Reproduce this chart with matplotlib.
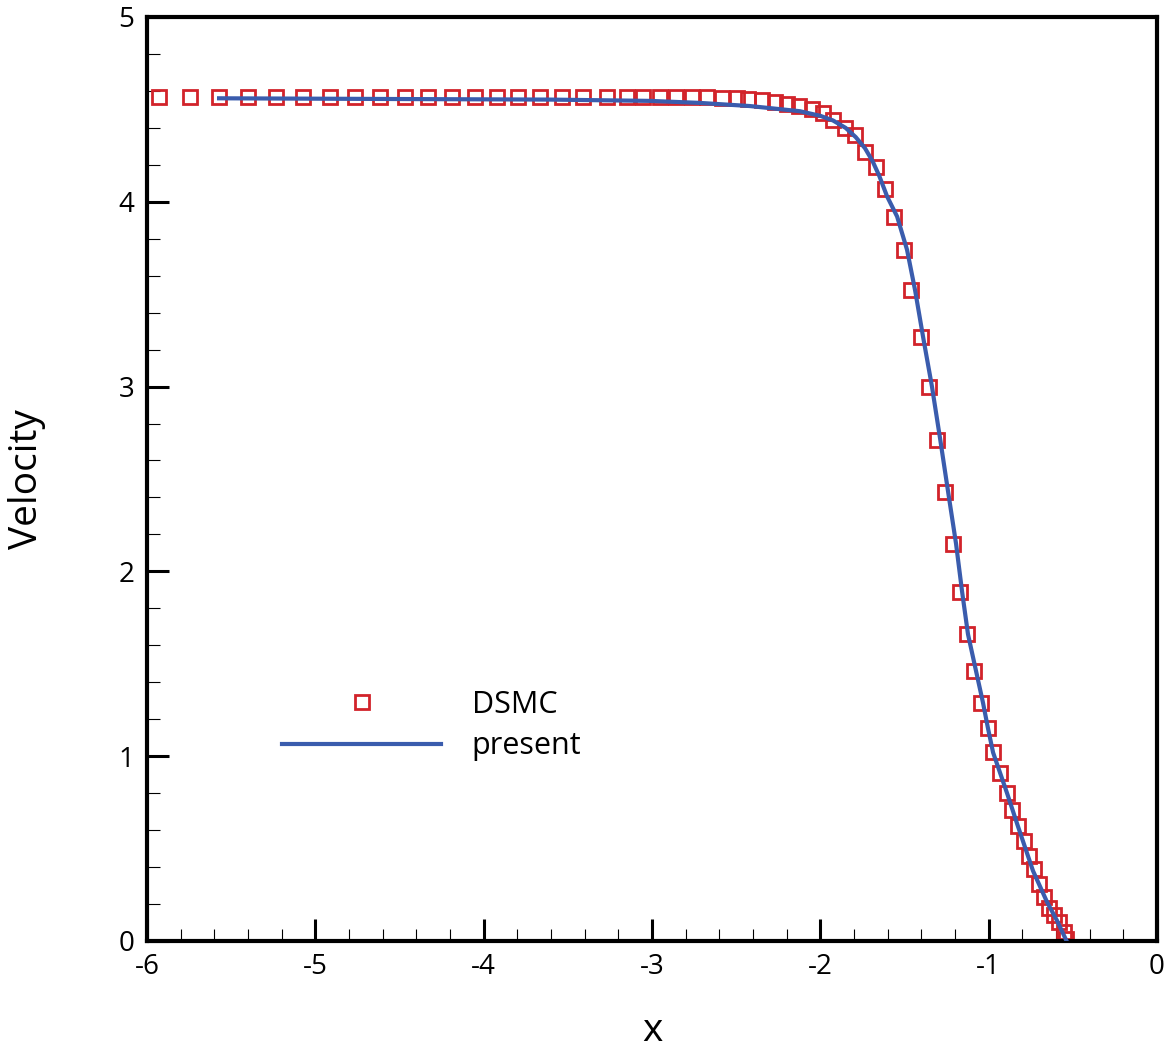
import matplotlib
matplotlib.use('Agg')
import matplotlib.pyplot as plt
from matplotlib.ticker import MultipleLocator

plt.rcParams['font.family'] = ['Open Sans', 'DejaVu Sans']
plt.rcParams['axes.unicode_minus'] = False

# DSMC samples
dsmc_x = [-5.929, -5.745, -5.572, -5.400, -5.234, -5.073, -4.913, -4.764, -4.617, -4.467,
          -4.331, -4.188, -4.051, -3.921, -3.796, -3.665, -3.535, -3.410, -3.267, -3.148,
          -3.053, -2.952, -2.857, -2.762, -2.673, -2.584, -2.495, -2.430, -2.346, -2.269,
          -2.198, -2.127, -2.049, -1.984, -1.925, -1.853, -1.794, -1.734, -1.669, -1.615,
          -1.562, -1.503, -1.461, -1.402, -1.354, -1.307, -1.259, -1.212, -1.170, -1.129,
          -1.087, -1.046, -1.004, -0.974, -0.933, -0.891, -0.861, -0.826, -0.790, -0.760,
          -0.731, -0.701, -0.671, -0.641, -0.612, -0.582, -0.552, -0.540]
dsmc_v = [4.565, 4.565, 4.565, 4.565, 4.565, 4.565, 4.565, 4.565, 4.565, 4.565,
          4.565, 4.565, 4.565, 4.565, 4.565, 4.565, 4.565, 4.565, 4.565, 4.565,
          4.565, 4.565, 4.565, 4.565, 4.565, 4.562, 4.560, 4.558, 4.550, 4.540,
          4.530, 4.520, 4.500, 4.480, 4.440, 4.400, 4.360, 4.270, 4.190, 4.070,
          3.920, 3.740, 3.520, 3.270, 3.000, 2.710, 2.430, 2.150, 1.890, 1.660,
          1.460, 1.290, 1.150, 1.020, 0.910, 0.800, 0.710, 0.620, 0.540, 0.460,
          0.390, 0.310, 0.240, 0.180, 0.140, 0.100, 0.050, 0.010]

# present solution
pres_x = [-5.572, -4.497, -3.606, -3.012, -2.715, -2.418, -2.121, -2.000, -1.925, -1.850,
          -1.790, -1.735, -1.690, -1.650, -1.604, -1.544, -1.485, -1.437, -1.390, -1.337,
          -1.289, -1.241, -1.194, -1.158, -1.123, -1.075, -1.034, -1.004, -0.974, -0.891,
          -0.826, -0.737, -0.653, -0.594, -0.540]
pres_v = [4.560, 4.556, 4.553, 4.546, 4.535, 4.518, 4.490, 4.465, 4.440, 4.400,
          4.350, 4.290, 4.220, 4.140, 4.030, 3.920, 3.740, 3.520, 3.270, 3.000,
          2.720, 2.430, 2.150, 1.890, 1.660, 1.460, 1.290, 1.150, 1.020, 0.800,
          0.620, 0.380, 0.210, 0.110, 0.005]

fig = plt.figure(figsize=(11.66, 10.55), dpi=100)
ax = fig.add_axes([0.1261, 0.1081, 0.8662, 0.8758])

ax.plot(dsmc_x, dsmc_v, 's', ms=10, mfc='none', mec='#d2232a', mew=2, label='DSMC', zorder=2)
ax.plot(pres_x, pres_v, '-', color='#3a5cad', lw=3, label='present', zorder=3)

ax.set_xlim(-6, 0)
ax.set_ylim(0, 5)
ax.xaxis.set_major_locator(MultipleLocator(1))
ax.xaxis.set_minor_locator(MultipleLocator(0.2))
ax.yaxis.set_major_locator(MultipleLocator(1))
ax.yaxis.set_minor_locator(MultipleLocator(0.2))
ax.tick_params(which='both', direction='in', top=False, right=False, labelsize=20, pad=9)
ax.tick_params(which='major', length=16, width=2.2)
ax.tick_params(which='minor', length=9, width=0.8)
for s in ax.spines.values():
    s.set_linewidth(3)

ax.set_xlabel('x', fontsize=28, labelpad=22)
ax.set_ylabel('Velocity', fontsize=28, labelpad=52)

ax.legend(loc='upper left', bbox_to_anchor=(0.1337, 0.272), frameon=False, fontsize=22,
          handlelength=5.2, handletextpad=1.0, labelspacing=0.38, borderpad=0, borderaxespad=0)

fig.savefig('out.png', dpi=100)
